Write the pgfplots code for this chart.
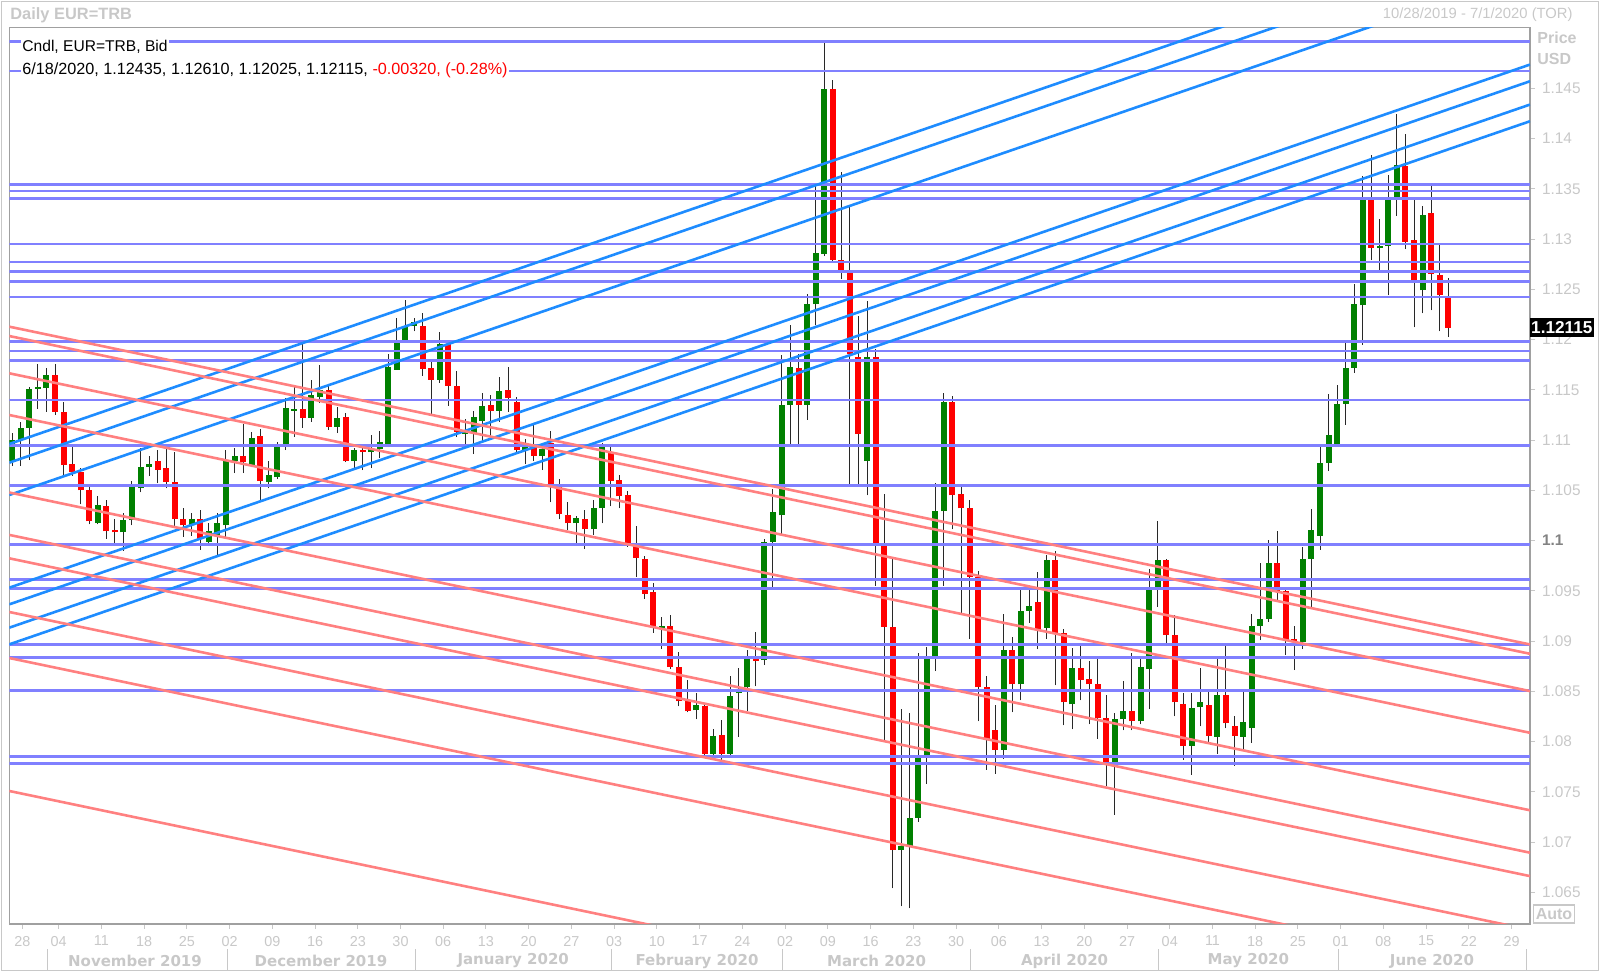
\documentclass[border=0pt]{standalone}
\usepackage{pgfplots}
\pgfplotsset{compat=1.18}
\usepackage{pgfplotstable}
\usepackage{fontspec}
\setmainfont{Liberation Sans}
\newfontfamily\dejavu{DejaVu Sans}
\definecolor{hline}{RGB}{128,128,255}
\definecolor{bline}{RGB}{30,140,255}
\definecolor{rline}{RGB}{255,128,128}
\definecolor{cgreen}{RGB}{0,128,0}
\definecolor{cred}{RGB}{255,0,0}
\definecolor{wick}{RGB}{40,40,40}
\definecolor{lgray}{RGB}{200,200,200}
\definecolor{dgray}{RGB}{130,130,130}
\definecolor{framec}{RGB}{160,160,160}

\pgfplotstableread{
i o h l c
0 1.1079 1.1107 1.1074 1.1100
1 1.1100 1.1118 1.1074 1.1112
2 1.1112 1.1153 1.1080 1.1151
3 1.1151 1.1176 1.1131 1.1153
4 1.1152 1.1172 1.1128 1.1165
10 1.1017 1.1044 1.1016 1.1035
13 1.1008 1.1027 1.0990 1.1020
14 1.1020 1.1059 1.1015 1.1053
15 1.1052 1.1092 1.1048 1.1073
16 1.1073 1.1084 1.1064 1.1076
21 1.1015 1.1027 1.1005 1.1021
23 1.0999 1.1017 1.0997 1.1009
24 1.1005 1.1027 1.0984 1.1017
25 1.1015 1.1090 1.1004 1.1080
26 1.1079 1.1092 1.1067 1.1084
28 1.1075 1.1108 1.1073 1.1102
30 1.1058 1.1079 1.1052 1.1065
31 1.1063 1.1098 1.1061 1.1094
32 1.1096 1.1142 1.1090 1.1132
33 1.1129 1.1153 1.1103 1.1131
35 1.1122 1.1160 1.1118 1.1145
36 1.1143 1.1175 1.1137 1.1150
38 1.1113 1.1133 1.1107 1.1122
40 1.1079 1.1092 1.1070 1.1090
42 1.1088 1.1105 1.1072 1.1092
43 1.1091 1.1109 1.1082 1.1098
44 1.1096 1.1186 1.1093 1.1173
45 1.1170 1.1221 1.1170 1.1200
46 1.1200 1.1239 1.1198 1.1213
47 1.1213 1.1221 1.1208 1.1217
50 1.1160 1.1207 1.1157 1.1196
53 1.1106 1.1121 1.1096 1.1108
54 1.1107 1.1129 1.1086 1.1123
55 1.1119 1.1147 1.1098 1.1134
57 1.1129 1.1163 1.1118 1.1149
60 1.1090 1.1101 1.1076 1.1094
62 1.1084 1.1096 1.1070 1.1091
66 1.1017 1.1024 1.0997 1.1022
68 1.1011 1.1040 1.1006 1.1032
69 1.1032 1.1097 1.1017 1.1094
76 1.0913 1.0924 1.0892 1.0915
80 1.0831 1.0848 1.0822 1.0836
82 1.0788 1.0812 1.0782 1.0806
84 1.0788 1.0865 1.0785 1.0845
85 1.0848 1.0873 1.0805 1.0850
86 1.0854 1.0891 1.0830 1.0882
88 1.0881 1.1002 1.0876 1.0999
89 1.0999 1.1051 1.0954 1.1028
90 1.1025 1.1185 1.1007 1.1135
91 1.1135 1.1214 1.1096 1.1173
93 1.1135 1.1245 1.1120 1.1235
94 1.1235 1.1354 1.1214 1.1286
95 1.1285 1.1496 1.1283 1.1449
100 1.1079 1.1238 1.1045 1.1183
104 1.0692 1.0832 1.0636 1.0696
105 1.0696 1.0828 1.0634 1.0724
106 1.0724 1.0888 1.0720 1.0785
107 1.0785 1.0894 1.0758 1.0882
108 1.0882 1.1057 1.0870 1.1029
109 1.1029 1.1147 1.0955 1.1138
116 1.0792 1.0927 1.0783 1.0891
118 1.0857 1.0951 1.0841 1.0930
119 1.0930 1.0951 1.0918 1.0935
121 1.0913 1.0986 1.0902 1.0981
124 1.0837 1.0893 1.0812 1.0873
129 1.0779 1.0828 1.0727 1.0822
130 1.0822 1.0860 1.0811 1.0830
132 1.0820 1.0885 1.0817 1.0874
133 1.0872 1.0972 1.0832 1.0951
134 1.0954 1.1019 1.0934 1.0981
138 1.0796 1.0848 1.0767 1.0833
139 1.0834 1.0873 1.0815 1.0839
141 1.0805 1.0885 1.0788 1.0846
144 1.0805 1.0849 1.0792 1.0819
145 1.0813 1.0927 1.0799 1.0915
146 1.0915 1.0978 1.0901 1.0922
147 1.0922 1.1001 1.0919 1.0978
151 1.0899 1.0994 1.0892 1.0982
152 1.0982 1.1031 1.0934 1.1010
153 1.1005 1.1093 1.0991 1.1077
154 1.1077 1.1146 1.1069 1.1105
155 1.1096 1.1155 1.1096 1.1136
156 1.1136 1.1197 1.1115 1.1172
157 1.1172 1.1255 1.1167 1.1235
158 1.1234 1.1363 1.1195 1.1339
160 1.1291 1.1320 1.1269 1.1293
161 1.1293 1.1364 1.1244 1.1339
162 1.1341 1.1424 1.1323 1.1374
165 1.1249 1.1333 1.1226 1.1324
}\up

\pgfplotstableread{
i o h l c
5 1.1165 1.1176 1.1125 1.1128
6 1.1128 1.1138 1.1065 1.1075
7 1.1076 1.1094 1.1064 1.1068
8 1.1068 1.1072 1.1036 1.1050
9 1.1050 1.1054 1.1016 1.1019
11 1.1034 1.1040 1.1002 1.1009
12 1.1010 1.1021 1.0997 1.1008
17 1.1079 1.1090 1.1057 1.1070
18 1.1072 1.1094 1.1052 1.1058
19 1.1058 1.1088 1.1014 1.1021
20 1.1021 1.1032 1.1004 1.1015
22 1.1021 1.1030 1.0991 1.1002
27 1.1084 1.1116 1.1067 1.1078
29 1.1104 1.1111 1.1040 1.1059
34 1.1131 1.1199 1.1112 1.1122
37 1.1150 1.1155 1.1110 1.1113
39 1.1123 1.1127 1.1078 1.1079
41 1.1090 1.1095 1.1070 1.1088
48 1.1213 1.1226 1.1164 1.1171
49 1.1172 1.1180 1.1126 1.1160
51 1.1196 1.1200 1.1134 1.1154
52 1.1154 1.1169 1.1103 1.1108
56 1.1135 1.1145 1.1103 1.1129
58 1.1150 1.1173 1.1128 1.1142
59 1.1138 1.1143 1.1087 1.1090
61 1.1094 1.1117 1.1079 1.1084
63 1.1097 1.1109 1.1038 1.1055
64 1.1054 1.1061 1.1021 1.1026
65 1.1025 1.1038 1.1010 1.1017
67 1.1021 1.1030 1.0992 1.1011
70 1.1088 1.1096 1.1034 1.1059
71 1.1060 1.1065 1.1032 1.1044
72 1.1045 1.1049 1.0994 1.0996
73 1.0996 1.1014 1.0964 1.0983
74 1.0982 1.0985 1.0942 1.0947
75 1.0949 1.0958 1.0908 1.0914
77 1.0915 1.0926 1.0872 1.0874
78 1.0874 1.0889 1.0835 1.0840
79 1.0840 1.0861 1.0829 1.0830
81 1.0835 1.0836 1.0786 1.0788
83 1.0807 1.0821 1.0780 1.0788
87 1.0883 1.0909 1.0855 1.0880
92 1.1172 1.1186 1.1096 1.1135
96 1.1449 1.1458 1.1277 1.1279
97 1.1279 1.1367 1.1260 1.1268
98 1.1266 1.1334 1.1056 1.1186
99 1.1183 1.1223 1.1056 1.1106
101 1.1183 1.1191 1.0955 1.0997
102 1.0995 1.1046 1.0801 1.0914
103 1.0914 1.0982 1.0654 1.0692
110 1.1138 1.1144 1.1011 1.1045
111 1.1046 1.1053 1.0926 1.1032
112 1.1032 1.1040 1.0902 1.0964
113 1.0964 1.0970 1.0820 1.0854
114 1.0854 1.0865 1.0772 1.0803
115 1.0811 1.0836 1.0768 1.0792
117 1.0891 1.0904 1.0829 1.0857
120 1.0939 1.0969 1.0892 1.0911
122 1.0981 1.0990 1.0856 1.0908
123 1.0908 1.0912 1.0816 1.0839
125 1.0873 1.0895 1.0841 1.0861
126 1.0862 1.0880 1.0817 1.0857
127 1.0857 1.0885 1.0803 1.0823
128 1.0823 1.0846 1.0756 1.0779
131 1.0830 1.0888 1.0811 1.0820
135 1.0981 1.0982 1.0898 1.0906
136 1.0906 1.0926 1.0825 1.0839
137 1.0837 1.0848 1.0782 1.0796
140 1.0836 1.0849 1.0800 1.0806
142 1.0846 1.0896 1.0813 1.0818
143 1.0815 1.0825 1.0776 1.0806
148 1.0978 1.1009 1.0940 1.0950
149 1.0950 1.0954 1.0886 1.0901
150 1.0902 1.0915 1.0871 1.0899
159 1.1339 1.1384 1.1279 1.1291
163 1.1373 1.1405 1.1290 1.1297
164 1.1299 1.1339 1.1212 1.1257
166 1.1326 1.1353 1.1229 1.1265
167 1.1264 1.1294 1.1208 1.1244
168 1.12435 1.12610 1.12025 1.12115
}\down

\begin{document}
\begin{tikzpicture}
\path[use as bounding box] (0,0) rectangle (800pt,486pt);
\draw[lgray, line width=0.6pt] (0.8pt,0.8pt) rectangle (799.2pt,485.2pt);
\begin{axis}[
  at={(4.65pt,24pt)}, anchor=south west,
  scale only axis, width=760.35pt, height=448.15pt,
  xmin=-0.35, xmax=177.57, ymin=1.061846, ymax=1.15103,
  axis line style={draw=framec, line width=0.6pt},
  tick align=outside, major tick length=2.5pt,
  xtick pos=left, ytick pos=right, yticklabel pos=right, xticklabel pos=left,
  tick style={draw=lgray, line width=0.5pt},
  xtick={1.18,5.42,10.42,15.42,20.42,25.42,30.42,35.42,40.42,45.42,50.42,55.42,60.42,65.42,70.42,75.42,80.42,85.42,90.42,95.42,100.42,105.42,110.42,115.42,120.42,125.42,130.42,135.42,140.42,145.42,150.42,155.42,160.42,165.42,170.42,175.42},
  xticklabels={28,04,11,18,25,02,09,16,23,30,06,13,20,27,03,10,17,24,02,09,16,23,30,06,13,20,27,04,11,18,25,01,08,15,22,29},
  ytick={1.065,1.07,1.075,1.08,1.085,1.09,1.095,1.1,1.105,1.11,1.115,1.12,1.125,1.13,1.135,1.14,1.145},
  yticklabels={1.065,1.07,1.075,1.08,1.085,1.09,1.095,{\bfseries\textcolor{dgray}{1.1}},1.105,1.11,1.115,1.12,1.125,1.13,1.135,1.14,1.145},
  xticklabel style={font=\fontsize{7.2}{8}\selectfont, text=lgray},
  yticklabel style={font=\fontsize{7.7}{8}\selectfont, text=lgray},
]
% wicks
\addplot[draw=none, mark=none, error bars/.cd, y dir=plus, y explicit, error mark=none,
  error bar style={draw=wick, line width=0.5pt}]
  table[x=i, y=l, y error plus expr=\thisrow{h}-\thisrow{l}] {\up};
\addplot[draw=none, mark=none, error bars/.cd, y dir=plus, y explicit, error mark=none,
  error bar style={draw=wick, line width=0.5pt}]
  table[x=i, y=l, y error plus expr=\thisrow{h}-\thisrow{l}] {\down};
% bodies
\addplot[draw=none, mark=none, error bars/.cd, y dir=plus, y explicit, error mark=none,
  error bar style={draw=cgreen, line width=3pt}]
  table[x=i, y=o, y error plus expr={max(\thisrow{c}-\thisrow{o},0.00012)}] {\up};
\addplot[draw=none, mark=none, error bars/.cd, y dir=plus, y explicit, error mark=none,
  error bar style={draw=cred, line width=3pt}]
  table[x=i, y=c, y error plus expr={max(\thisrow{o}-\thisrow{c},0.00012)}] {\down};
% horizontal levels
\pgfplotsinvokeforeach{1.14964,1.14672,1.13545,1.13478,1.13405,1.12951,1.12772,1.12675,1.12576,1.12423,1.11979,1.11886,1.11790,1.11399,1.10946,1.10546,1.09961,1.09610,1.09523,1.08967,1.08834,1.08508,1.07851,1.07781}{
  \addplot[hline, line width=1.3pt] coordinates {(-0.35,#1) (177.57,#1)};
}
% rising trend lines
\addplot[bline, line width=1.3pt] coordinates {(-0.35,1.10961) (177.57,1.16166)};
\addplot[bline, line width=1.3pt] coordinates {(-0.35,1.10775) (177.57,1.15980)};
\addplot[bline, line width=1.3pt] coordinates {(-0.35,1.10453) (177.57,1.15658)};
\addplot[bline, line width=1.3pt] coordinates {(-0.35,1.09531) (177.57,1.14736)};
\addplot[bline, line width=1.3pt] coordinates {(-0.35,1.09365) (177.57,1.14570)};
\addplot[bline, line width=1.3pt] coordinates {(-0.35,1.09133) (177.57,1.14338)};
\addplot[bline, line width=1.3pt] coordinates {(-0.35,1.08967) (177.57,1.14172)};
% falling trend lines
\addplot[rline, line width=1.3pt] coordinates {(-0.35,1.12128) (177.57,1.08966)};
\addplot[rline, line width=1.3pt] coordinates {(-0.35,1.12035) (177.57,1.08873)};
\addplot[rline, line width=1.3pt] coordinates {(-0.35,1.11664) (177.57,1.08502)};
\addplot[rline, line width=1.3pt] coordinates {(-0.35,1.11249) (177.57,1.08087)};
\addplot[rline, line width=1.3pt] coordinates {(-0.35,1.10478) (177.57,1.07316)};
\addplot[rline, line width=1.3pt] coordinates {(-0.35,1.10056) (177.57,1.06894)};
\addplot[rline, line width=1.3pt] coordinates {(-0.35,1.09823) (177.57,1.06661)};
\addplot[rline, line width=1.3pt] coordinates {(-0.35,1.09289) (177.57,1.06127)};
\addplot[rline, line width=1.3pt] coordinates {(-0.35,1.08831) (177.57,1.05669)};
\addplot[rline, line width=1.3pt] coordinates {(-0.35,1.07508) (177.57,1.04346)};
\end{axis}
% header texts
\node[anchor=west, inner sep=0pt, text=lgray, font=\bfseries\fontsize{8.2}{9}\selectfont] at (5pt,478.5pt) {Daily EUR=TRB};
\node[anchor=east, inner sep=0pt, text=lgray, font=\fontsize{7.4}{8}\selectfont] at (786.5pt,478.5pt) {10/28/2019 - 7/1/2020 (TOR)};
\node[anchor=west, fill=white, inner xsep=0.8pt, inner ysep=1pt, font=\fontsize{7.8}{8}\selectfont] at (10.2pt,462.6pt) {Cndl, EUR=TRB, Bid};
\node[anchor=west, fill=white, inner xsep=0.8pt, inner ysep=1pt, font=\fontsize{8.1}{8.5}\selectfont] at (10.2pt,451pt) {6/18/2020, 1.12435, 1.12610, 1.12025, 1.12115, \textcolor{cred}{-0.00320, (-0.28\%)}};
\node[anchor=west, inner sep=0pt, text=lgray, font=\bfseries\fontsize{8}{9}\selectfont] at (768.5pt,467.1pt) {Price};
\node[anchor=west, inner sep=0pt, text=lgray, font=\bfseries\fontsize{8}{9}\selectfont] at (768.5pt,456.4pt) {USD};
% last price tag
\node[anchor=west, fill=black, text=white, inner xsep=0.8pt, inner ysep=0pt, minimum height=9.5pt, font=\bfseries\fontsize{8.6}{9}\selectfont] at (764.6pt,322pt) {1.12115};
% auto box
\node[draw=lgray, line width=0.6pt, text=lgray, inner xsep=1pt, inner ysep=0.8pt, minimum height=9pt, font=\bfseries\fontsize{8}{9}\selectfont] at (777pt,29pt) {Auto};
% month separators and labels
\foreach \xx in {23.74,113.5,207.5,305.8,391.3,485.3,579.3,669.1,763.0}{
  \draw[lgray, line width=0.5pt] (\xx pt,1pt) -- (\xx pt,11.5pt);
}
\foreach \xx/\mm in {67.5/November 2019,160.5/December 2019,256.6/January 2020,348.5/February 2020,438.3/March 2020,532.3/April 2020,624.2/May 2020,716/June 2020}{
  \node[text=lgray, inner sep=0pt, font=\dejavu\bfseries\fontsize{7.5}{8}\selectfont] at (\xx pt,5.5pt) {\mm};
}
\end{tikzpicture}
\end{document}
